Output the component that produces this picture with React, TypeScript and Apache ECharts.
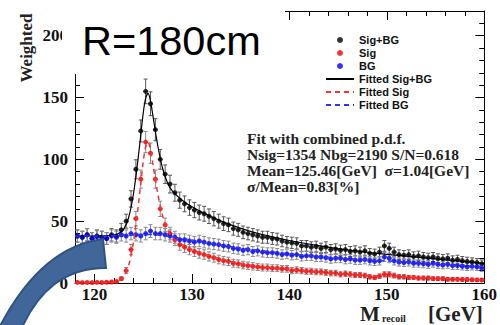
import React, { useEffect, useRef } from "react";
import * as echarts from "echarts";

// ---- histogram binning ----
const binLow = 118;
const binWidth = 0.5;

// ---- data ----
const sigBG = [
  38, 37, 39, 36, 38, 37, 36, 39, 38, 43,
  50, 68, 92, 123, 155, 145, 124, 100, 88, 80,
  73, 67, 64, 61, 59, 57, 56, 54, 52, 50,
  48, 47, 44, 43, 41, 40, 39, 38, 37, 37,
  36, 35.5, 34, 33, 32.5, 32, 30, 30, 29, 29.5,
  28, 29, 27, 27.5, 26.5, 27, 25.5, 26, 25, 26,
  24, 23.5, 25, 30, 28, 25, 23, 22.5, 23, 21.5,
  22, 21, 20.5, 21, 20, 19.5, 20, 18.5, 19, 18,
  17.5, 17, 16.5, 15.5,
];
const sig = [
  0.5, 0.3, 0.4, 0.3, 0.5, 0.4, 0.6, 0.8, 1.2, 3.5,
  10, 27, 52, 84, 114, 105, 84, 60, 47, 40,
  35, 31, 29, 27, 25.5, 24, 23, 21.5, 20.5, 19,
  18, 17.5, 16, 15.5, 14.5, 14, 13.5, 13, 12.5, 12.5,
  12, 12, 11.5, 11.5, 10, 10.5, 10, 9.5, 9.5, 9,
  9, 8.5, 8, 8, 7, 7.5, 7, 6.5, 6.5, 6,
  5, 4.5, 5.5, 7, 7, 6, 5, 5, 4.5, 4.5,
  4, 4, 4, 3.5, 3.5, 3.5, 3, 3, 3, 2.8,
  2.8, 2.6, 2.5, 2.4,
];
const bg = [
  38, 37, 39, 36, 37.5, 37, 36, 38, 37, 39,
  38, 40, 39, 38, 40, 42, 40, 40, 39, 38,
  37, 35, 35, 34, 33, 34, 33, 32, 31.5, 31,
  30, 29.5, 28, 27.5, 26.5, 27, 25.5, 26, 25, 24.5,
  24.5, 24, 23, 23.5, 22.5, 23, 21.5, 22, 22, 21,
  21, 20.5, 19.5, 20, 20, 19, 19.5, 18.5, 18.5, 19,
  18, 17.5, 18, 21, 20, 18, 17, 16.5, 17, 16,
  16, 15.5, 15, 16, 15, 14.5, 15, 14, 14, 13.5,
  13, 13.5, 13, 12,
];

// fitted curves
const fitX = [118, 119, 120, 121, 122, 122.5, 123, 123.5, 124, 124.5, 125, 125.25, 125.5, 125.75, 126, 126.5, 127, 127.5, 128, 129, 130, 132, 134, 136, 138, 140, 143, 146, 150, 155, 160];
const fitSig = [0, 0, 0, 0.1, 0.6, 1.8, 5, 14, 33, 63, 98, 110, 114, 108, 96, 72, 54, 43, 37, 31, 27, 21.5, 17.5, 14.5, 12.5, 10.8, 8.8, 7, 5.3, 3.8, 2.6];
const fitBG = [38, 38, 38, 38, 38.2, 38.4, 38.6, 38.8, 39, 39.2, 39.3, 39.3, 39.3, 39.2, 39.1, 38.8, 38.4, 37.9, 37.3, 36, 34.7, 32, 29.5, 27.3, 25.3, 23.6, 21.4, 19.7, 17.8, 15.7, 13.3];
const fitSigBG = [38, 38, 38, 38.1, 38.8, 40.2, 43.6, 52.8, 72, 102.2, 137.3, 149.3, 153.3, 147.2, 135.1, 110.8, 92.4, 80.9, 74.3, 67, 61.7, 53.5, 47, 41.8, 37.8, 34.4, 30.2, 26.7, 23.1, 19.5, 15.9];

// ticks / labels
const xMin = 118;
const xMax = 160;
const yMin = 0;
const yMax = 220;
const xTickLabels = [120, 130, 140, 150, 160];
const xMinorTicks = [118, 120, 122, 124, 126, 128, 130, 132, 134, 136, 138, 140, 142, 144, 146, 148, 150, 152, 154, 156, 158, 160];
const yTickLabels = [0, 50, 100, 150, 200];
const yMinorTicks = [0, 10, 20, 30, 40, 50, 60, 70, 80, 90, 100, 110, 120, 130, 140, 150, 160, 170, 180, 190, 200, 210, 220];

const legendNames = ["Sig+BG", "Sig", "BG", "Fitted Sig+BG", "Fitted Sig", "Fitted BG"];
const fitInfo = [
  "Fit with combined p.d.f.",
  "Nsig=1354 Nbg=2190 S/N=0.618",
  "Mean=125.46[GeV]  σ=1.04[GeV]",
  "σ/Mean=0.83[%]",
];
const titleText = "R=180cm";
const yName = "Weighted";
const xNameMain = "M";
const xNameSub = "recoil";
const xNameUnit = "[GeV]";

const errScale = 0.8; // Poisson-like statistical error of weighted counts

const arrowPath =
  "M-3 332 C22 282 55 245 103 239 L106 268 C65 268 38 290 20 332 Z";
echarts.graphic.registerShape("blueArc", echarts.graphic.extendPath(arrowPath, {}));

const SERIF = '"Liberation Serif", "DejaVu Serif", serif';
const SANS = '"Liberation Sans", Arial, sans-serif';

function xAxisCfg(position: string, ticks: number[], len: number, labels: boolean, line: boolean) {
  return {
    type: "value",
    position,
    min: xMin,
    max: xMax,
    axisLine: { show: line, onZero: false, lineStyle: { color: "#000", width: 1 } },
    axisTick: { show: true, inside: true, length: len, customValues: ticks, lineStyle: { color: "#000", width: 1 } },
    axisLabel: labels
      ? { show: true, customValues: xTickLabels, color: "#111", fontFamily: SERIF, fontWeight: "bold", fontSize: 17, margin: 3 }
      : { show: false },
    splitLine: { show: false },
  };
}
function yAxisCfg(position: string, ticks: number[], len: number, labels: boolean, line: boolean) {
  return {
    type: "value",
    position,
    min: yMin,
    max: yMax,
    axisLine: { show: line, onZero: false, lineStyle: { color: "#000", width: 1 } },
    axisTick: { show: true, inside: true, length: len, customValues: ticks, lineStyle: { color: "#000", width: 1 } },
    axisLabel: labels
      ? { show: true, customValues: yTickLabels, color: "#111", fontFamily: SERIF, fontWeight: "bold", fontSize: 17, margin: 7 }
      : { show: false },
    splitLine: { show: false },
  };
}

function errorSeries(values: number[], color: string) {
  const data = values.map((v, i) => [binLow + binWidth * (i + 0.5), v, Math.sqrt(Math.max(v, 0.3)) * errScale]);
  return {
    type: "custom",
    xAxisIndex: 0,
    yAxisIndex: 0,
    z: 1,
    silent: true,
    data,
    renderItem: (params: any, api: any) => {
      const x = api.value(0);
      const y = api.value(1);
      const e = api.value(2);
      const top = api.coord([x, y + e]);
      const bot = api.coord([x, Math.max(y - e, 0)]);
      const l = api.coord([x - binWidth / 2, y]);
      const r = api.coord([x + binWidth / 2, y]);
      const st = { stroke: color, lineWidth: 1 };
      return {
        type: "group",
        children: [
          { type: "line", shape: { x1: top[0], y1: top[1], x2: bot[0], y2: bot[1] }, style: st },
          { type: "line", shape: { x1: l[0], y1: l[1], x2: r[0], y2: r[1] }, style: st },
          { type: "line", shape: { x1: top[0] - 2, y1: top[1], x2: top[0] + 2, y2: top[1] }, style: st },
          { type: "line", shape: { x1: bot[0] - 2, y1: bot[1], x2: bot[0] + 2, y2: bot[1] }, style: st },
        ],
      };
    },
  };
}

function pts(values: number[]) {
  return values.map((v, i) => [binLow + binWidth * (i + 0.5), v]);
}
function fitPts(values: number[]) {
  return fitX.map((x, i) => [x, values[i]]);
}

export default function App() {
  const ref = useRef<HTMLDivElement>(null);
  useEffect(() => {
    if (!ref.current) return;
    const chart = echarts.init(ref.current, undefined, { renderer: "svg" });
    const hideSym = { opacity: 0, borderWidth: 0 };
    const option: any = {
      animation: false,
      backgroundColor: "#fff",
      grid: { left: 75, top: 11, width: 413, height: 272, containLabel: false },
      xAxis: [
        xAxisCfg("bottom", xTickLabels, 9, true, true),
        xAxisCfg("bottom", xMinorTicks, 5, false, false),
        xAxisCfg("top", xTickLabels, 9, false, true),
        xAxisCfg("top", xMinorTicks, 5, false, false),
      ],
      yAxis: [
        yAxisCfg("left", yTickLabels, 9, true, true),
        yAxisCfg("left", yMinorTicks, 5, false, false),
        yAxisCfg("right", yTickLabels, 9, false, true),
        yAxisCfg("right", yMinorTicks, 5, false, false),
      ],
      legend: {
        orient: "vertical",
        left: 320,
        top: 29,
        itemWidth: 28,
        itemHeight: 6,
        itemGap: 1,
        selectedMode: false,
        textStyle: { fontFamily: SANS, fontWeight: "bold", fontSize: 11, lineHeight: 12, color: "#111" },
        data: [
          { name: legendNames[0], icon: "circle" },
          { name: legendNames[1], icon: "circle" },
          { name: legendNames[2], icon: "circle" },
          { name: legendNames[3], itemStyle: hideSym },
          { name: legendNames[4], itemStyle: hideSym },
          { name: legendNames[5], itemStyle: hideSym },
        ],
      },
      series: [
        errorSeries(sigBG, "#555555"),
        errorSeries(sig, "#888888"),
        errorSeries(bg, "#888888"),
        { name: legendNames[0], type: "scatter", data: pts(sigBG), symbol: "circle", symbolSize: 5, itemStyle: { color: "#000" }, z: 3 },
        { name: legendNames[1], type: "scatter", data: pts(sig), symbol: "circle", symbolSize: 5, itemStyle: { color: "#ff0000" }, z: 3 },
        { name: legendNames[2], type: "scatter", data: pts(bg), symbol: "circle", symbolSize: 5, itemStyle: { color: "#0000ff" }, z: 3 },
        { name: legendNames[3], type: "line", data: fitPts(fitSigBG), smooth: 0.3, showSymbol: false, symbol: "none", lineStyle: { color: "#000", width: 1.2 }, itemStyle: { color: "#000" }, z: 4 },
        { name: legendNames[4], type: "line", data: fitPts(fitSig), smooth: 0.3, showSymbol: false, symbol: "none", lineStyle: { color: "#ff3030", width: 1.5, type: [5, 4] }, itemStyle: { color: "#ff3030" }, z: 4 },
        { name: legendNames[5], type: "line", data: fitPts(fitBG), smooth: 0.3, showSymbol: false, symbol: "none", lineStyle: { color: "#3030ff", width: 1.5, type: [5, 4] }, itemStyle: { color: "#3030ff" }, z: 4 },
      ],
      graphic: [
        { type: "rect", z: 100, shape: { x: 62, y: 0, width: 223, height: 74 }, style: { fill: "#fff" } },
        { type: "text", z: 101, x: 82, y: 40, style: { text: titleText, font: `41.5px ${SANS}`, fill: "#000", align: "left", verticalAlign: "middle" } },
        { type: "text", z: 101, x: 26, y: 48, rotation: Math.PI / 2, style: { text: yName, font: `bold 17px ${SERIF}`, fill: "#222", align: "center", verticalAlign: "middle" } },
        ...fitInfo.map((t, i) => ({
          type: "text", z: 101, x: 247, y: 138 + i * 16,
          style: { text: t, font: `bold 15.5px ${SERIF}`, fill: "#222", align: "left", verticalAlign: "middle" },
        })),
        { type: "text", z: 101, x: 360, y: 313.5, style: { text: xNameMain, font: `bold 21px ${SERIF}`, fill: "#222", align: "left", verticalAlign: "middle" } },
        { type: "text", z: 101, x: 382, y: 318, style: { text: xNameSub, font: `bold 10px ${SERIF}`, fill: "#222", align: "left", verticalAlign: "middle" } },
        { type: "text", z: 101, x: 428, y: 313.5, style: { text: xNameUnit, font: `bold 21px ${SERIF}`, fill: "#222", align: "left", verticalAlign: "middle" } },
        { type: "blueArc", z: 110, x: 0, y: 0, style: { fill: "#41679a", stroke: "#2f5482", lineWidth: 2 } },
      ],
    };
    chart.setOption(option);
    return () => chart.dispose();
  }, []);
  return <div ref={ref} style={{ position: "fixed", left: 0, top: 0, width: 500, height: 325 }} />;
}
